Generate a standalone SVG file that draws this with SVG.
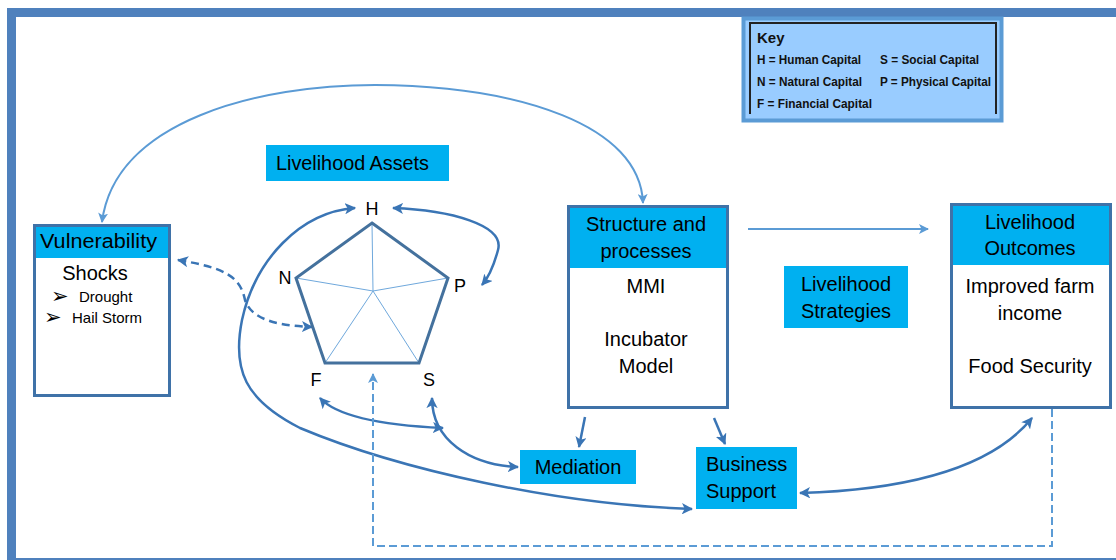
<svg xmlns="http://www.w3.org/2000/svg" width="1116" height="560" viewBox="0 0 1116 560">
  <style>
    text { font-family: "Liberation Sans", Arial, sans-serif; fill: #000; }
    .t { font-size: 20px; }
    .tc { font-size: 20px; text-anchor: middle; }
    .small { font-size: 15px; }
    .bul { font-size: 21px; font-family: "DejaVu Sans", sans-serif; }
    .lbl { font-size: 18px; text-anchor: middle; }
    .key { font-size: 13.5px; font-weight: bold; fill: #111; }
    .keyt { font-size: 15px; font-weight: bold; fill: #111; }
    .hdr { fill: #00b0f0; }
    .box { fill: none; stroke: #3f72a8; stroke-width: 3; }
    .solid { fill: none; stroke: #3a75b5; stroke-width: 2.5; }
    .light { fill: none; stroke: #5b9bd5; stroke-width: 2; }
    .dash { fill: none; stroke: #3a75b5; stroke-width: 2.5; stroke-dasharray: 8 5; }
    .ldash { fill: none; stroke: #5b9bd5; stroke-width: 2; stroke-dasharray: 8 4; }
  </style>
  <defs>
    <marker id="ah" viewBox="0 0 10 10" refX="9" refY="5" markerWidth="4.5" markerHeight="4.5" orient="auto-start-reverse" markerUnits="strokeWidth">
      <path d="M0,0 L10,5 L0,10 L2.5,5 z" fill="#3a75b5"/>
    </marker>
    <marker id="ahl" viewBox="0 0 10 10" refX="9" refY="5" markerWidth="5" markerHeight="5" orient="auto-start-reverse" markerUnits="strokeWidth">
      <path d="M0,0 L10,5 L0,10 L2.5,5 z" fill="#5b9bd5"/>
    </marker>
  </defs>

  <!-- page frame -->
  <rect x="7" y="8" width="1109" height="9" fill="#4f81bd"/>
  <rect x="7" y="8" width="9" height="552" fill="#4f81bd"/>
  <rect x="16" y="558" width="1100" height="2" fill="#4f81bd"/>

  <!-- key -->
  <g id="key">
    <rect x="743.5" y="18.5" width="258" height="102" fill="#99ccff" stroke="#5b9bd5" stroke-width="4"/>
    <path d="M750 114 V23 H996 V114" fill="none" stroke="#222" stroke-width="2"/>
    <text class="keyt" x="757" y="43">Key</text>
    <text class="key" x="757" y="64" textLength="104" lengthAdjust="spacingAndGlyphs">H = Human Capital</text>
    <text class="key" x="880" y="64" textLength="99" lengthAdjust="spacingAndGlyphs">S = Social Capital</text>
    <text class="key" x="757" y="86" textLength="105" lengthAdjust="spacingAndGlyphs">N = Natural Capital</text>
    <text class="key" x="880" y="86" textLength="111" lengthAdjust="spacingAndGlyphs">P = Physical Capital</text>
    <text class="key" x="757" y="108" textLength="115" lengthAdjust="spacingAndGlyphs">F = Financial Capital</text>
  </g>

  <!-- connectors -->
  <g id="connectors">
    <path class="light" d="M102 222 C115 120 260 85 375 85 C520 86 640 125 643 203" marker-start="url(#ahl)" marker-end="url(#ahl)"/>
    <path class="dash" d="M178 260 C225 268 240 276 245 300 C252 322 285 326 312 327" marker-start="url(#ah)" marker-end="url(#ah)"/>
    <path class="solid" d="M355 208 C300 212 255 260 242 320 C232 370 245 400 300 428 C400 470 560 505 692 509" marker-start="url(#ah)" marker-end="url(#ah)"/>
    <path class="solid" d="M393 208 C450 210 505 225 498 250 C494 265 488 278 482 285" marker-start="url(#ah)" marker-end="url(#ah)"/>
    <path class="solid" d="M443 428 C400 426 340 420 320 398" marker-start="url(#ah)" marker-end="url(#ah)"/>
    <path class="solid" d="M432 398 C432 440 470 465 518 467" marker-start="url(#ah)" marker-end="url(#ah)"/>
    <path class="solid" stroke-width="3.5" d="M585 417 L579 447" marker-end="url(#ah)"/>
    <path class="solid" stroke-width="3.5" d="M714 418 L725 444" marker-end="url(#ah)"/>
    <path class="light" stroke-width="2.5" d="M748 229 H928" marker-end="url(#ahl)"/>
    <path class="solid" d="M800 493 C900 490 990 470 1032 418" marker-start="url(#ah)" marker-end="url(#ah)"/>
    <path class="ldash" d="M1052 409 V546 H373 V374" marker-end="url(#ahl)"/>
  </g>

  <!-- vulnerability -->
  <g id="vulnerability">
    <rect x="34" y="225" width="136" height="33" class="hdr"/>
    <rect x="34.5" y="225.5" width="135" height="170" class="box"/>
    <text class="t" x="40" y="248" textLength="117" lengthAdjust="spacingAndGlyphs">Vulnerability</text>
    <text class="tc" x="95" y="280">Shocks</text>
    <text class="bul" x="51" y="303">➢</text>
    <text class="small" x="79" y="302">Drought</text>
    <text class="bul" x="44" y="324">➢</text>
    <text class="small" x="72" y="323">Hail Storm</text>
  </g>

  <!-- livelihood assets -->
  <g id="assets-label">
    <rect x="266" y="145" width="183" height="36" class="hdr"/>
    <text class="t" x="276" y="170" textLength="153" lengthAdjust="spacingAndGlyphs">Livelihood Assets</text>
  </g>

  <g id="assets-pentagon">
    <g stroke="#6fa8dc" stroke-width="1">
      <line x1="373" y1="291" x2="372" y2="223"/>
      <line x1="373" y1="291" x2="448" y2="278"/>
      <line x1="373" y1="291" x2="419" y2="363"/>
      <line x1="373" y1="291" x2="325" y2="363"/>
      <line x1="373" y1="291" x2="296" y2="278"/>
    </g>
    <polygon points="372,223 448,278 419,363 325,363 296,278" fill="none" stroke="#44719d" stroke-width="3" stroke-linejoin="miter"/>
    <text class="lbl" x="372" y="215">H</text>
    <text class="lbl" x="285" y="284">N</text>
    <text class="lbl" x="460" y="292">P</text>
    <text class="lbl" x="316" y="386">F</text>
    <text class="lbl" x="429" y="386">S</text>
  </g>

  <!-- structure and processes -->
  <g id="structures">
    <rect x="568" y="206" width="159" height="62" class="hdr"/>
    <rect x="568.5" y="206.5" width="159" height="201" class="box"/>
    <text class="tc" x="646" y="231">Structure and</text>
    <text class="tc" x="646" y="258">processes</text>
    <text class="tc" x="646" y="293">MMI</text>
    <text class="tc" x="646" y="346">Incubator</text>
    <text class="tc" x="646" y="373">Model</text>
  </g>

  <!-- strategies -->
  <g id="strategies">
    <rect x="784" y="266" width="124" height="62" class="hdr"/>
    <text class="tc" x="846" y="291">Livelihood</text>
    <text class="tc" x="846" y="318">Strategies</text>
  </g>

  <!-- outcomes -->
  <g id="outcomes">
    <rect x="951" y="204" width="159" height="61" class="hdr"/>
    <rect x="951.5" y="204.5" width="159" height="203" class="box"/>
    <text class="tc" x="1030" y="229">Livelihood</text>
    <text class="tc" x="1030" y="255">Outcomes</text>
    <text class="tc" x="1030" y="293">Improved farm</text>
    <text class="tc" x="1030" y="320">income</text>
    <text class="tc" x="1030" y="373">Food Security</text>
  </g>

  <!-- mediation -->
  <g id="mediation">
    <rect x="520" y="450" width="116" height="34" class="hdr"/>
    <text class="tc" x="578" y="474">Mediation</text>
  </g>

  <!-- business support -->
  <g id="business-support">
    <rect x="696" y="447" width="101" height="62" class="hdr"/>
    <text class="t" x="706" y="471">Business</text>
    <text class="t" x="706" y="498">Support</text>
  </g>
</svg>
